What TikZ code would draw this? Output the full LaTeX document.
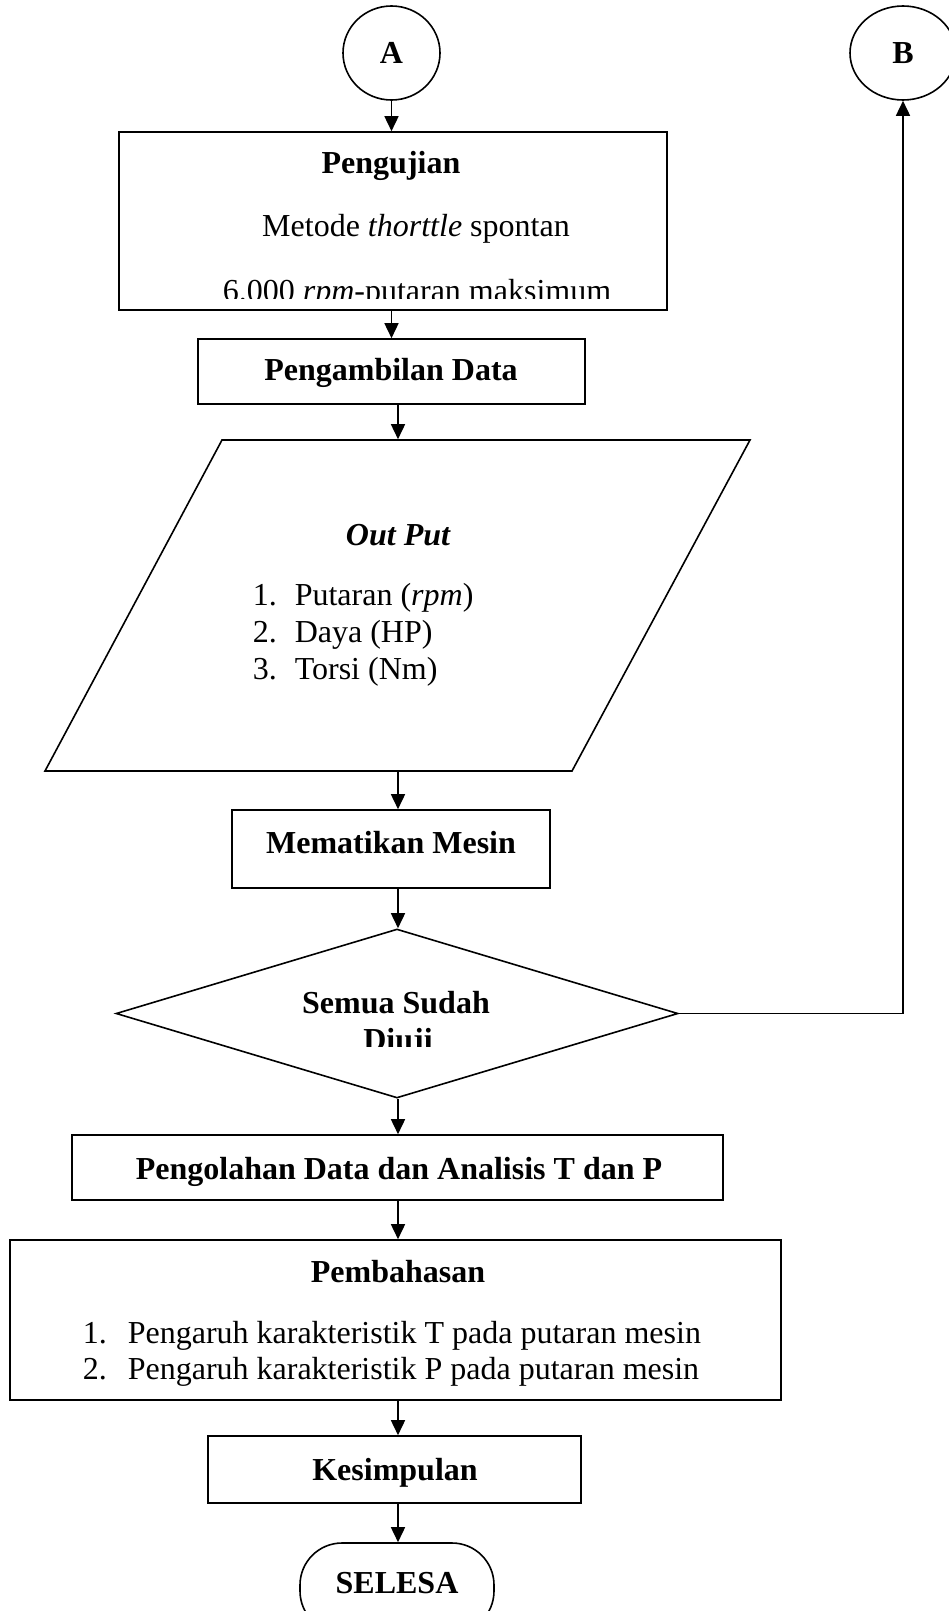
\documentclass[tikz,border=0pt]{standalone}
\usepackage{fontspec}
\setmainfont{Liberation Serif}
\usetikzlibrary{arrows.meta,positioning,shapes.geometric}

\begin{document}
\begin{tikzpicture}[x=1pt,y=-1pt,line width=1.6pt,
  font=\fontsize{32}{37}\selectfont,
  box/.style={draw,rectangle,inner sep=0pt},
  conn/.style={draw,ellipse,inner sep=0pt,font=\fontsize{32}{37}\selectfont\bfseries},
  flow/.style={-{Triangle[length=15pt,width=14pt]}},
  txt/.style={inner sep=0pt,anchor=base},
  item/.style={inner sep=0pt,anchor=base west}]
  \useasboundingbox (0,0) rectangle (949,1611);

  % connectors A and B
  \node[conn,minimum width=97pt,minimum height=94pt] (A) at (391.5,53) {A};
  \node[conn,minimum width=106pt,minimum height=94pt] (B) at (903,53) {B};

  % Pengujian
  \node[box,minimum width=548pt,minimum height=178pt] (uji) at (393,221) {};
  \node[txt,font=\fontsize{32}{37}\selectfont\bfseries] (ujiT) at (391,173) {Pengujian};
  \node[txt] (ujiM) at (416,236) {Metode \textit{thorttle} spontan};
  \begin{scope}
    \clip (119,132) rectangle (667,298);
    \node[txt] (ujiR) at (417,301) {6.000 \textit{rpm}-putaran maksimum};
  \end{scope}

  % Pengambilan data
  \node[box,minimum width=387pt,minimum height=65pt] (ambil) at (391.5,371.5) {};
  \node[txt,font=\fontsize{32}{37}\selectfont\bfseries] (ambilT) at (391,380) {Pengambilan Data};

  % Out put
  \node[minimum width=705pt,minimum height=331pt,inner sep=0pt] (out) at (398,605.5) {};
  \draw (222,440) -- (750,440) -- (572,771) -- (45,771) -- cycle;
  \node[txt,font=\fontsize{32}{37}\selectfont\bfseries\itshape] (outT) at (398,545) {Out Put};
  \node[item] (out1) at (252,605) {\makebox[42pt][l]{1.}Putaran (\textit{rpm})};
  \node[item] (out2) at (252,642) {\makebox[42pt][l]{2.}Daya (HP)};
  \node[item] (out3) at (252,679) {\makebox[42pt][l]{3.}Torsi (Nm)};

  % Mematikan mesin
  \node[box,minimum width=318pt,minimum height=78pt] (mati) at (391,849) {};
  \node[txt,font=\fontsize{32}{37}\selectfont\bfseries] (matiT) at (391,853) {Mematikan Mesin};

  % keputusan
  \node[draw,diamond,minimum width=562pt,minimum height=169pt,inner sep=0pt] (dec) at (397,1013.5) {};
  \node[txt,font=\fontsize{32}{37}\selectfont\bfseries] (decT1) at (396,1013) {Semua Sudah};
  \begin{scope}
    \clip (250,1020) rectangle (550,1046);
    \node[txt,font=\fontsize{32}{37}\selectfont\bfseries] (decT2) at (398,1050) {Diuji};
  \end{scope}

  % Pengolahan data
  \node[box,minimum width=651pt,minimum height=65pt] (olah) at (397.5,1167.5) {};
  \node[txt,font=\fontsize{32}{37}\selectfont\bfseries] (olahT) at (399,1179) {Pengolahan Data dan Analisis T dan P};

  % Pembahasan
  \node[box,minimum width=771pt,minimum height=160pt] (bahas) at (395.5,1320) {};
  \node[txt,font=\fontsize{32}{37}\selectfont\bfseries] (bahasT) at (398,1282) {Pembahasan};
  \node[item] (bahas1) at (82,1343) {\makebox[45pt][l]{1.}Pengaruh karakteristik T pada putaran mesin};
  \node[item] (bahas2) at (82,1379) {\makebox[45pt][l]{2.}Pengaruh karakteristik P pada putaran mesin};

  % Kesimpulan
  \node[box,minimum width=373pt,minimum height=67pt] (simpul) at (394.5,1469.5) {};
  \node[txt,font=\fontsize{32}{37}\selectfont\bfseries] (simpulT) at (395,1480) {Kesimpulan};

  % Selesai
  \node[draw,rectangle,rounded corners=42pt,minimum width=194pt,minimum height=90pt,inner sep=0pt] (end) at (397,1588) {};
  \node[txt,font=\fontsize{32}{37}\selectfont\bfseries] (endT) at (397,1593) {SELESA};

  % alur
  \draw[flow] (A.south) -- (A.south |- uji.north);
  \draw[flow] (uji.south -| A) -- (A |- ambil.north);
  \draw[flow] (ambil.south -| out) -- (out.north);
  \draw[flow] (out.south) -- (out.south |- mati.north);
  \draw[flow] (mati.south -| out) -- (dec.north -| out);
  \draw[flow] (dec.south -| out) -- (olah.north -| out);
  \draw[flow] (olah.south -| out) -- (bahas.north -| out);
  \draw[flow] (bahas.south -| out) -- (simpul.north -| out);
  \draw[flow] (simpul.south -| out) -- (end.north -| out);
  \draw[flow] (dec.east) -| (B.south);
\end{tikzpicture}
\end{document}
